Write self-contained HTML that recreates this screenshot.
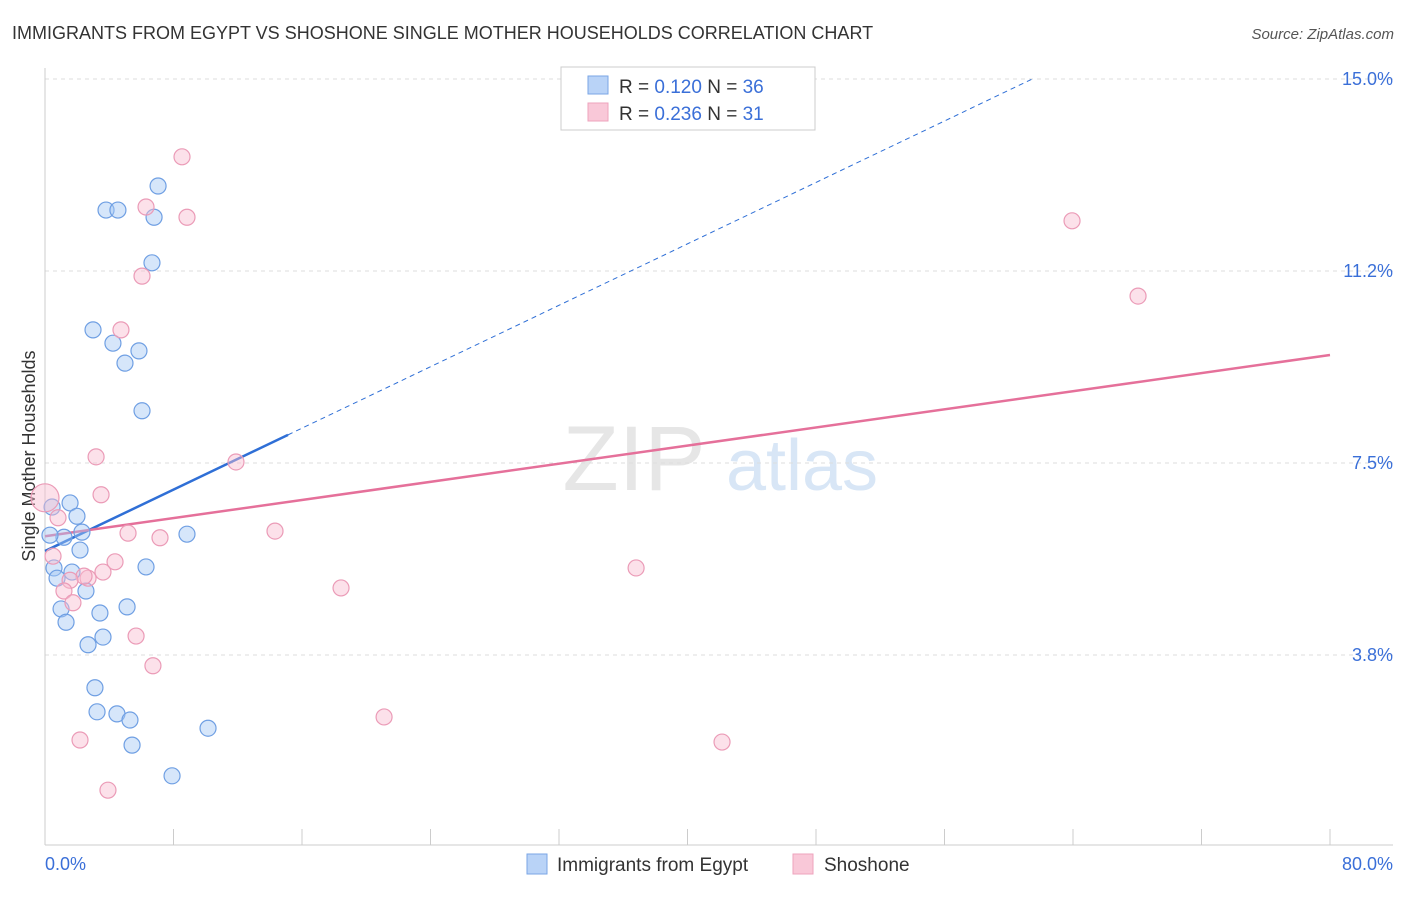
<!DOCTYPE html>
<html><head><meta charset="utf-8"><style>
body{margin:0;background:#fff;font-family:"Liberation Sans",sans-serif;}
svg text{font-family:"Liberation Sans",sans-serif;}
</style></head><body>
<svg id="c" width="1406" height="892">
<text x="12" y="39" font-size="18" fill="#333">IMMIGRANTS FROM EGYPT VS SHOSHONE SINGLE MOTHER HOUSEHOLDS CORRELATION CHART</text>
<text x="1394" y="39" font-size="15" fill="#555" font-style="italic" text-anchor="end">Source: ZipAtlas.com</text>
<text x="35" y="456" font-size="18" fill="#333" transform="rotate(-90 35 456)" text-anchor="middle">Single Mother Households</text>
<g><text x="634" y="490" font-size="92" fill="#e6e6e6" font-family="Liberation Serif" text-anchor="middle">ZIP</text><text x="802" y="490" font-size="72" fill="#d8e6f6" text-anchor="middle">atlas</text></g>
<g id="grid"></g><g id="axes"></g><g id="lines"></g><g id="pts"></g>
<g>
<rect x="561" y="67" width="254" height="63" fill="#fff" stroke="#ccc"/>
<rect x="588" y="76" width="20" height="18" fill="#b9d3f7" stroke="#7aa6e6"/>
<rect x="588" y="103" width="20" height="18" fill="#f9c8d8" stroke="#eea3bd"/>
<text x="619" y="93" font-size="19" fill="#333">R = <tspan fill="#3a6fd8">0.120</tspan>   N = <tspan fill="#3a6fd8">36</tspan></text>
<text x="619" y="120" font-size="19" fill="#333">R = <tspan fill="#3a6fd8">0.236</tspan>   N =  <tspan fill="#3a6fd8">31</tspan></text>
</g>
<g>
<rect x="527" y="854" width="20" height="20" fill="#b9d3f7" stroke="#7aa6e6"/>
<text x="557" y="871" font-size="19" fill="#333">Immigrants from Egypt</text>
<rect x="793" y="854" width="20" height="20" fill="#f9c8d8" stroke="#eea3bd"/>
<text x="824" y="871" font-size="19" fill="#333">Shoshone</text>
</g>
</svg>
<script>
const yTicks=[15,11.25,7.5,3.75];
const yTickLabels=["15.0%","11.2%","7.5%","3.8%"];
const xTicks=[0,8,16,24,32,40,48,56,64,72,80];
const egyptX=[7.04,3.80,4.54,6.79,6.66,2.99,4.23,5.85,4.98,6.04,1.56,0.44,1.99,2.30,1.18,0.31,2.18,8.84,6.29,0.56,1.68,0.75,2.55,1.00,3.42,5.11,1.31,3.61,2.68,3.11,3.24,4.48,5.29,5.42,10.15,7.91];
const egyptY=[12.91,12.44,12.44,12.30,11.41,10.10,9.84,9.69,9.45,8.52,6.72,6.64,6.46,6.15,6.05,6.09,5.80,6.11,5.47,5.45,5.37,5.25,5.00,4.65,4.57,4.69,4.39,4.10,3.95,3.11,2.64,2.60,2.48,1.99,2.32,1.39];
const shoX=[8.53,6.29,8.84,6.04,4.73,3.18,11.89,3.49,0.81,14.32,5.17,7.16,0.50,4.36,3.61,2.68,2.43,1.56,1.18,18.43,1.74,36.80,5.67,6.72,21.11,2.18,42.15,3.92,63.94,68.05,0];
const shoY=[13.48,12.50,12.30,11.15,10.10,7.62,7.52,6.88,6.43,6.17,6.13,6.04,5.68,5.57,5.37,5.25,5.29,5.21,5.00,5.06,4.77,5.45,4.12,3.54,2.54,2.09,2.05,1.11,12.23,10.76,6.82];
const egyptTrend=[5.78,0.150];
const shoTrend=[6.07,9.61];
const NS="http://www.w3.org/2000/svg";
const X=v=>45+v*1285/80, Y=v=>847-v*51.2;
function mk(p,t,a){const e=document.createElementNS(NS,t);for(const k in a)e.setAttribute(k,a[k]);document.getElementById(p).appendChild(e);return e;}
yTicks.forEach((v,i)=>{
 const l=mk('grid','line',{x1:45,x2:1393,y1:Y(v),y2:Y(v),stroke:'#ddd','stroke-dasharray':'4 4'});
 
 
 const t=mk('grid','text',{x:1393,y:Y(v)+6,'font-size':18,fill:'#3a6fd8','text-anchor':'end'});t.textContent=yTickLabels[i];
 
 
});
mk('axes','line',{x1:45,x2:45,y1:68,y2:845,stroke:'#ccc'});
mk('axes','line',{x1:45,x2:1393,y1:845,y2:845,stroke:'#ccc'});
xTicks.forEach(v=>{const t=mk('axes','line',{x1:X(v),x2:X(v),y1:829,y2:845,stroke:'#ccc'});
 
 });
let a=mk('axes','text',{x:45,y:870,'font-size':18,fill:'#3a6fd8'});a.textContent='0.0%';


let b=mk('axes','text',{x:1393,y:870,'font-size':18,fill:'#3a6fd8','text-anchor':'end'});b.textContent='80.0%';


// trends
const xEnd=(15-egyptTrend[0])/egyptTrend[1];
let d=mk('lines','line',{x1:X(15.13),y1:Y(egyptTrend[0]+egyptTrend[1]*15.13),x2:X(xEnd),y2:Y(15),stroke:'#2f6fd6','stroke-width':1,'stroke-dasharray':'5 4'});


let s=mk('lines','line',{x1:X(0),y1:Y(egyptTrend[0]),x2:X(15.13),y2:Y(egyptTrend[0]+egyptTrend[1]*15.13),stroke:'#2f6fd6','stroke-width':2.5});


let p=mk('lines','line',{x1:X(0),y1:Y(shoTrend[0]),x2:X(80),y2:Y(shoTrend[1]),stroke:'#e5709a','stroke-width':2.5});


egyptX.forEach((v,i)=>{const c=mk('pts','circle',{cx:X(v),cy:Y(egyptY[i]),r:8,fill:'rgba(164,199,245,0.45)',stroke:'#6f9fe3','stroke-width':1.2});
 
 });
shoX.forEach((v,i)=>{const c=mk('pts','circle',{cx:X(v),cy:Y(shoY[i]),r:i==30?14:8,fill:'rgba(248,188,208,0.45)',stroke:'#eb9bb7','stroke-width':1.2});
 
 });
</script>
</body></html>
